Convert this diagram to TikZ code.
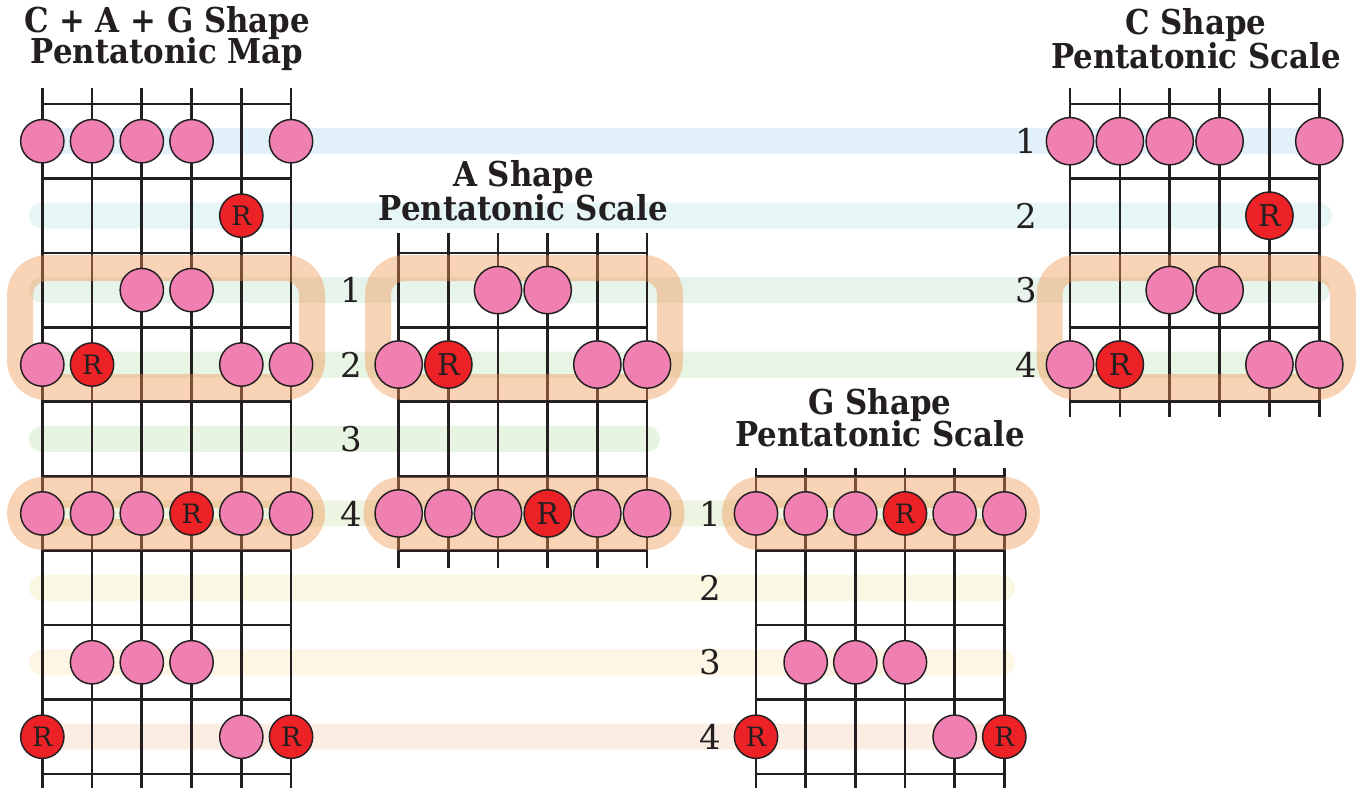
\documentclass[tikz,border=0pt]{standalone}
\usepackage{fontspec}
\setmainfont{DejaVu Serif}
\newfontfamily\titlefont{DejaVu Serif Condensed}
\definecolor{ink}{RGB}{35,31,32}
\definecolor{dotpink}{RGB}{240,128,178}
\definecolor{rootred}{RGB}{236,34,39}
\definecolor{frameor}{RGB}{240,150,80}
\definecolor{bandA}{RGB}{226,241,249}
\definecolor{bandB}{RGB}{230,245,246}
\definecolor{bandC}{RGB}{230,244,236}
\definecolor{bandD}{RGB}{232,244,228}
\definecolor{bandE}{RGB}{232,244,226}
\definecolor{bandF}{RGB}{237,245,226}
\definecolor{bandG}{RGB}{249,249,227}
\definecolor{bandH}{RGB}{254,246,228}
\definecolor{bandI}{RGB}{252,237,226}
\tikzset{
  stringline/.style={draw=ink, line width=2pt},
  note/.style={circle, draw=ink, line width=1.1pt, fill=dotpink, minimum size=32.5pt, inner sep=0pt},
  root/.style={note, fill=rootred, text=ink, font=\fontsize{20}{20}\selectfont},
  bignote/.style={note, minimum size=35.5pt},
  bigroot/.style={bignote, fill=rootred, text=ink, font=\fontsize{22.5}{22.5}\selectfont},
  band/.style={rounded corners=9.75pt},
  frame/.style={draw=frameor, draw opacity=0.42, line width=19.5pt, rounded corners=20pt},
  pill/.style={draw=frameor, draw opacity=0.42, line width=23.25pt, rounded corners=15.75pt},
  title/.style={font=\titlefont\bfseries, text=ink, anchor=base, inner sep=0pt},
  rowlabel/.style={font=\fontsize{25.5}{25.5}\selectfont, text=ink, inner sep=0pt}
}
\newcommand{\ry}[1]{104+(#1-0.5)*74.44}
\newcommand{\fy}[1]{104+(#1)*74.44}
\newcommand{\twoline}[3]{\fontsize{25.7}{#1}\selectfont\lineskiplimit=-\maxdimen\vbox{\halign{\hfil##\hfil\cr #2\cr #3\cr}}}
\begin{document}
\begin{tikzpicture}[x=0.75pt,y=-0.75pt]
\useasboundingbox (0,0) rectangle (1357,792);
% ---------- colour bands ----------
\fill[bandA,band] (29,{\ry{1}-13}) rectangle (1332,{\ry{1}+13});
\fill[bandB,band] (29,{\ry{2}-13}) rectangle (1332,{\ry{2}+13});
\fill[bandC,band] (29,{\ry{3}-13}) rectangle (1330,{\ry{3}+13});
\fill[bandD,band] (29,{\ry{4}-13}) rectangle (1330,{\ry{4}+13});
\fill[bandE,band] (29,{\ry{5}-13}) rectangle (660,{\ry{5}+13});
\fill[bandF,band] (29,{\ry{6}-13}) rectangle (1000,{\ry{6}+13});
\fill[bandG,band] (29,{\ry{7}-13}) rectangle (1015,{\ry{7}+13});
\fill[bandH,band] (29,{\ry{8}-13}) rectangle (1015,{\ry{8}+13});
\fill[bandI,band] (29,{\ry{9}-13}) rectangle (1015,{\ry{9}+13});
% ---------- fretboards ----------
% left map
\foreach \s in {0,...,5} \draw[stringline] ({42.3+\s*49.75},88) -- ({42.3+\s*49.75},788);
\foreach \f in {0,...,9} \draw[stringline] (42.3,{\fy{\f}}) -- (291,{\fy{\f}});
% A shape
\foreach \s in {0,...,5} \draw[stringline] ({398.7+\s*49.66},233) -- ({398.7+\s*49.66},568);
\foreach \f in {2,...,6} \draw[stringline] (398.7,{\fy{\f}}) -- (647,{\fy{\f}});
% G shape
\foreach \s in {0,...,5} \draw[stringline] ({756+\s*49.66},468) -- ({756+\s*49.66},788);
\foreach \f in {5,...,9} \draw[stringline] (756,{\fy{\f}}) -- (1004.3,{\fy{\f}});
% C shape
\foreach \s in {0,...,5} \draw[stringline] ({1070+\s*49.86},88) -- ({1070+\s*49.86},417);
\foreach \f in {0,...,4} \draw[stringline] (1070,{\fy{\f}}) -- (1319.3,{\fy{\f}});
% ---------- orange frames ----------
\draw[frame] (20,268) rectangle (312,387);
\draw[frame] (378,268) rectangle (670,387);
\draw[frame] (1049.5,268) rectangle (1343,387);
\draw[pill] (22.5,{\ry{6}-21}) rectangle (309.5,{\ry{6}+21});
\draw[pill] (379,{\ry{6}-21}) rectangle (669,{\ry{6}+21});
\draw[pill] (737.5,{\ry{6}-21}) rectangle (1024.5,{\ry{6}+21});
% ---------- notes: left map ----------
\foreach \r/\s in {1/1,1/2,1/3,1/4,1/6,3/3,3/4,4/1,4/5,4/6,6/1,6/2,6/3,6/5,6/6,8/2,8/3,8/4,9/5}
  \node[note] (L\r-\s) at ({42.3+(\s-1)*49.75},{\ry{\r}}) {};
\foreach \r/\s in {2/5,4/2,6/4,9/1,9/6}
  \node[root] (L\r-\s) at ({42.3+(\s-1)*49.75},{\ry{\r}}) {R};
% A shape
\foreach \r/\s in {3/3,3/4,4/1,4/5,4/6,6/1,6/2,6/3,6/5,6/6}
  \node[bignote] (A\r-\s) at ({398.7+(\s-1)*49.66},{\ry{\r}}) {};
\foreach \r/\s in {4/2,6/4}
  \node[bigroot] (A\r-\s) at ({398.7+(\s-1)*49.66},{\ry{\r}}) {R};
% G shape
\foreach \r/\s in {6/1,6/2,6/3,6/5,6/6,8/2,8/3,8/4,9/5}
  \node[note] (G\r-\s) at ({756+(\s-1)*49.66},{\ry{\r}}) {};
\foreach \r/\s in {6/4,9/1,9/6}
  \node[root] (G\r-\s) at ({756+(\s-1)*49.66},{\ry{\r}}) {R};
% C shape
\foreach \r/\s in {1/1,1/2,1/3,1/4,1/6,3/3,3/4,4/1,4/5,4/6}
  \node[bignote] (C\r-\s) at ({1070+(\s-1)*49.86},{\ry{\r}}) {};
\foreach \r/\s in {2/5,4/2}
  \node[bigroot] (C\r-\s) at ({1070+(\s-1)*49.86},{\ry{\r}}) {R};
% ---------- row labels ----------
\foreach \n in {1,...,4} {
  \node[rowlabel] (labA\n) at (351.5,{\ry{\n+2}}) {\n};
  \node[rowlabel] (labG\n) at (710,{\ry{\n+5}}) {\n};
  \node[rowlabel] (labC\n) at (1026,{\ry{\n}}) {\n};
}
% ---------- titles ----------
\node[title] (tL) at (167,64) {\twoline{23.25pt}{C + A + G Shape}{Pentatonic Map}};
\node[title] (tA) at (523.5,220) {\twoline{25pt}{A Shape}{Pentatonic Scale}};
\node[title] (tG) at (880,446.7) {\twoline{23.8pt}{G Shape}{Pentatonic Scale}};
\node[title] (tC) at (1196,68.3) {\twoline{25pt}{C Shape}{Pentatonic Scale}};
\end{tikzpicture}
\end{document}
